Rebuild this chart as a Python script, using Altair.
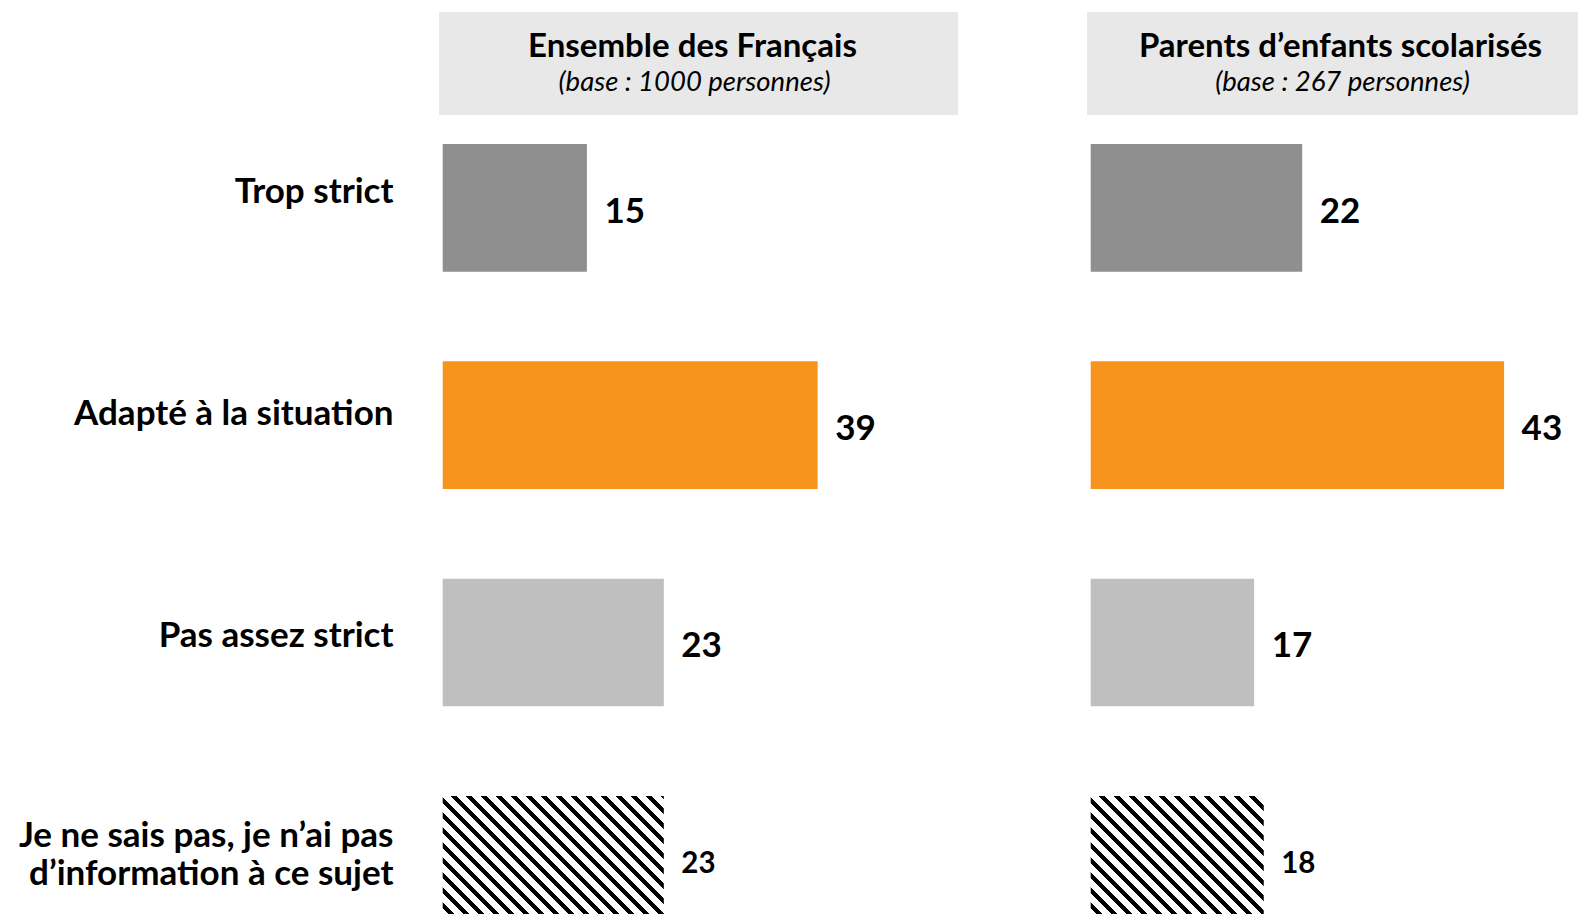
import altair as alt
import pandas as pd

# ---- data ----
categories = [
    "Trop strict",
    "Adapté à la situation",
    "Pas assez strict",
    "Je ne sais pas, je n’ai pas\nd’information à ce sujet",
]
ensemble_values = [15, 39, 23, 23]
parents_values = [22, 43, 17, 18]
panel_titles = ["Ensemble des Français", "Parents d’enfants scolarisés"]
panel_bases = ["(base : 1000 personnes)", "(base : 267 personnes)"]
bar_colors = ["#8F8F8F", "#F7941D", "#BFBFBF"]

# ---- layout / style ----
FONT = "Lato"
LEFT_W = 519
RIGHT_W = 491          # right panel runs to the window edge
COL_GAP = 129
HEADER_H = 103
BARS_H = 799           # visible plot height (chart fits the window)
RANGE_H = 808.5        # band range (last bar runs off the bottom)
PX_PER_UNIT = LEFT_W / 53.985
X0 = -0.385
PAD_INNER = 0.4129
PAD_OUTER = 0.0669
STEP = RANGE_H / (len(categories) - PAD_INNER + 2 * PAD_OUTER)
BAR_H = STEP * (1 - PAD_INNER)
TEXT_CENTER = LEFT_W / 2 - 6


def hatch(value, period=15.0, frac=0.45):
    """Diagonal stripe fill built from a hard-stop linear gradient."""
    w = value * PX_PER_UNIT
    h = BAR_H
    k = w * (w + h) / (w * w + h * h)
    n = (w + h) / period
    stops = []
    i = 0
    while i / n < 1:
        a = i / n
        b = min((i + frac) / n, 1.0)
        c = min((i + 1) / n, 1.0)
        stops += [
            alt.GradientStop(offset=a, color="black"),
            alt.GradientStop(offset=b, color="black"),
            alt.GradientStop(offset=b, color="white"),
            alt.GradientStop(offset=c, color="white"),
        ]
        i += 1
    return alt.LinearGradient(gradient="linear", stops=stops,
                              x1=0, y1=1, x2=k, y2=1 - k * h / w)


label_offset = {
    "condition": [
        {"test": "datum.value === 'Trop strict'", "value": -16},
        {"test": "datum.value === 'Adapté à la situation'", "value": -11},
        {"test": "datum.value === 'Pas assez strict'", "value": -6},
    ],
    "value": -23.5,
}


def panel(title, base, values, show_labels, width):
    df = pd.DataFrame({"cat": categories, "value": values})
    df["hatched"] = [c == categories[-1] for c in categories]

    if show_labels:
        yaxis = alt.Axis(
            title=None, domain=False, ticks=False,
            labelFont=FONT, labelFontSize=35, labelFontWeight="bold",
            labelColor="black", labelPadding=46, labelLimit=0,
            labelExpr="split(datum.label, '\\n')", labelLineHeight=38,
            labelOffset=label_offset,
            minExtent=431, maxExtent=431,
        )
    else:
        yaxis = None

    y = alt.Y("cat:N", axis=yaxis, title=None,
              scale=alt.Scale(domain=categories, paddingInner=PAD_INNER,
                              paddingOuter=PAD_OUTER, align=1,
                              range=[0, RANGE_H]))
    x = alt.X("value:Q", axis=None,
              scale=alt.Scale(domain=[X0, X0 + width / PX_PER_UNIT],
                              nice=False, zero=False))

    basec = alt.Chart(df).encode(y=y)
    solid = basec.transform_filter("!datum.hatched").mark_bar(clip=True).encode(
        x=x, x2=alt.datum(0),
        color=alt.Color("cat:N", legend=None,
                        scale=alt.Scale(domain=categories[:3], range=bar_colors)),
    )
    hatched = basec.transform_filter("datum.hatched").mark_bar(
        fill=hatch(values[-1]), strokeWidth=0, clip=True
    ).encode(x=x, x2=alt.datum(0))
    texts = basec.mark_text(
        align="left", baseline="middle", dx=17.5, dy=4,
        font=FONT, fontWeight="bold", color="black",
    ).encode(
        x=x, text="value:Q",
        size=alt.condition("datum.hatched", alt.value(29.5), alt.value(35)),
    )
    bars = alt.layer(solid, hatched, texts).properties(width=width, height=BARS_H)

    dx = TEXT_CENTER - width / 2
    hdf = pd.DataFrame({"title": [title], "base": [base]})
    t1 = alt.Chart(hdf).mark_text(
        font=FONT, fontWeight="bold", fontSize=33, dy=-17, dx=dx,
        baseline="middle", color="black",
    ).encode(text="title:N")
    t2 = alt.Chart(hdf).mark_text(
        font=FONT, fontStyle="italic", fontSize=27.5, dy=19, dx=dx + 2,
        baseline="middle", color="black",
    ).encode(text="base:N")
    header = alt.layer(t1, t2).properties(
        width=width, height=HEADER_H,
        view=alt.ViewBackground(fill="#E8E8E8", stroke=None),
    )
    return alt.vconcat(header, bars, spacing=0)


left = panel(panel_titles[0], panel_bases[0], ensemble_values, True, LEFT_W)
right = panel(panel_titles[1], panel_bases[1], parents_values, False, RIGHT_W)

chart = alt.hconcat(left, right, spacing=COL_GAP).properties(
    padding={"left": 0, "top": 4, "right": 0, "bottom": 0},
    background="white",
).configure_view(stroke=None)

chart.save("out.html", embed_options={"renderer": "svg", "actions": False})
